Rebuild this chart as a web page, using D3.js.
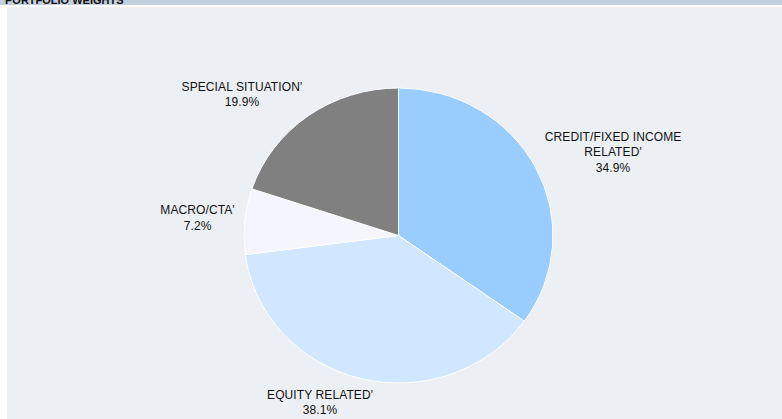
<!DOCTYPE html>
<html>
<head>
<meta charset="utf-8">
<script src="https://cdn.jsdelivr.net/npm/d3@7"></script>
<style>
  body { margin: 0; background: #ffffff; }
  svg { display: block; font-family: "Liberation Sans", Arial, sans-serif; }
</style>
</head>
<body>
<div id="chart"></div>
<script>
(function () {

    // data
    const categories = ["CREDIT/FIXED INCOME RELATED'", "EQUITY RELATED'", "MACRO/CTA'", "SPECIAL SITUATION'"];
    const labelLines = [["CREDIT/FIXED INCOME", "RELATED'"], ["EQUITY RELATED'"], ["MACRO/CTA'"], ["SPECIAL SITUATION'"]];
    const weights = [34.9, 38.1, 7.2, 19.9];
    const colors = ["#99CCFF", "#D1E7FF", "#F5F5FF", "#808080"];

    const width = 782, height = 419;
    // the pie in the reference is a touch wider than tall
    const cx = 398.5, cy = 235.5, rx = 154.5, ry = 147.5;

    const svg = d3.select("#chart").append("svg")
        .attr("width", width)
        .attr("height", height);

    // header strip + panel
    svg.append("rect").attr("x", 0).attr("y", 0).attr("width", width).attr("height", 5).attr("fill", "#C3CFDC");
    svg.append("text")
        .attr("x", 5).attr("y", 4)
        .attr("font-size", "11px").attr("font-weight", "bold")
        .attr("fill", "#111")
        .text("PORTFOLIO WEIGHTS");
    svg.append("rect").attr("x", 7).attr("y", 7).attr("width", width - 7).attr("height", height - 7).attr("fill", "#ECEFF4");

    const data = categories.map((c, i) => ({ name: c, lines: labelLines[i], value: weights[i], color: colors[i] }));

    const pie = d3.pie().value(d => d.value).sort(null);
    const arcs = pie(data);
    const arc = d3.arc().innerRadius(0).outerRadius(ry);

    const g = svg.append("g").attr("transform", `translate(${cx},${cy})`);

    g.append("g")
        .attr("transform", `scale(${rx / ry},1)`)
        .selectAll("path")
        .data(arcs)
        .enter()
        .append("path")
        .attr("d", arc)
        .attr("fill", d => d.data.color)
        .attr("stroke", "#ffffff")
        .attr("stroke-width", 1)
        .attr("vector-effect", "non-scaling-stroke");

    // labels sit just outside the rim, box pushed outward
    const lineH = 15.5;
    const gap = 10;
    arcs.forEach(a => {
        const mid = (a.startAngle + a.endAngle) / 2;
        const px = Math.sin(mid) * (rx + gap);
        const py = -Math.cos(mid) * (ry + gap);
        const lines = a.data.lines.concat([a.data.value.toFixed(1) + "%"]);

        const t = g.append("text")
            .attr("font-size", "12px")
            .attr("letter-spacing", "0.1px")
            .attr("fill", "#111")
            .attr("text-anchor", "middle");
        lines.forEach((l, i) => {
            t.append("tspan").attr("x", 0).attr("dy", i === 0 ? 0 : lineH).text(l);
        });

        const bb = t.node().getBBox();
        const w = bb.width, h = lines.length * lineH;
        const k = Math.max(-1, Math.min(1, Math.sin(mid) * 3));
        const bx = px + k * w / 2;
        const by = py - Math.cos(mid) * h / 2;
        const top = by - h / 2;
        t.attr("transform", `translate(${bx},${top + 11})`);
    });

})();
</script>
</body>
</html>
